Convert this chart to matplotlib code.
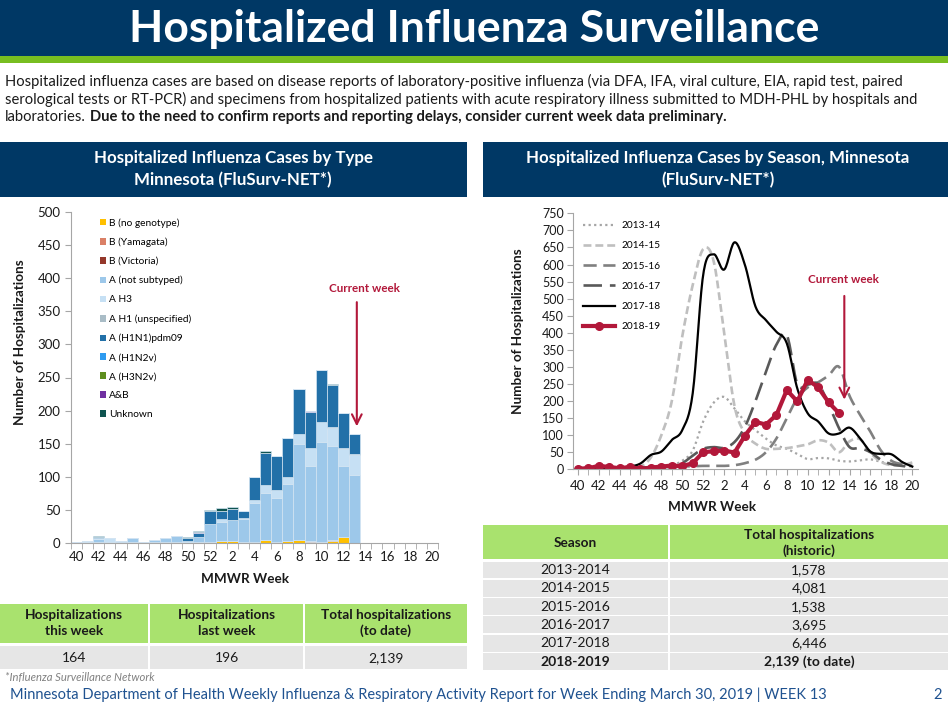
import numpy as np
import matplotlib
matplotlib.use("Agg")
import matplotlib.pyplot as plt
from matplotlib.patches import Rectangle, Patch
from matplotlib.lines import Line2D

plt.rcParams['font.family'] = ['Lato', 'DejaVu Sans']

# ---------------- data ----------------
week_nums = list(range(40, 53)) + list(range(1, 21))          # MMWR weeks 40..52, 1..20
tick_pos = list(range(0, 33, 2))
tick_labels = [str(week_nums[i]) for i in tick_pos]

# stacked bars, weeks 40 .. 13 (26 weeks)
b_nogeno = [0, 0, 1, 0, 1, 2, 0, 1, 2, 2, 0, 2, 2, 3, 3, 1, 2, 5, 2, 3, 4, 2, 2, 3, 9, 0]
b_yam    = [0, 0, 0, 0, 0, 0, 0, 0, 0, 0, 0, 0, 0, 0, 0, 0, 0, 0, 0, 0, 0, 1, 0, 1, 0, 0]
b_vic    = [0, 0, 0, 0, 0, 0, 0, 0, 0, 0, 0, 0, 0, 0, 0, 0, 0, 0, 0, 0, 1, 0, 0, 0, 0, 0]
a_nst    = [2, 2, 5, 1, 2, 5, 1, 3, 5, 8, 2, 7, 26, 29, 31, 36, 59, 71, 66, 86, 145, 113, 150, 143, 107, 103]
a_h3     = [0, 1, 1, 6, 0, 0, 0, 0, 1, 0, 1, 0, 0, 4, 1, 1, 4, 12, 12, 11, 14, 27, 31, 27, 26, 30]
a_h1     = [0, 0, 0, 0, 0, 0, 0, 0, 0, 0, 0, 0, 0, 0, 0, 0, 0, 0, 0, 0, 0, 0, 0, 1, 1, 2]
a_pdm09  = [0, 0, 2, 0, 0, 0, 0, 1, 0, 1, 5, 6, 20, 12, 16, 11, 34, 48, 51, 59, 68, 55, 79, 64, 53, 29]
a_h1n2v  = [0] * 26
a_h3n2v  = [0] * 26
a_and_b  = [0, 0, 0, 0, 0, 0, 0, 0, 0, 0, 0, 1, 0, 0, 0, 0, 0, 0, 0, 0, 0, 1, 0, 0, 0, 0]
unknown  = [0, 0, 1, 0, 0, 0, 0, 0, 0, 0, 1, 2, 2, 5, 4, 0, 0, 3, 0, 0, 0, 0, 0, 1, 0, 0]

type_series = [
    ("B (no genotype)", b_nogeno, "#FFC000"),
    ("B (Yamagata)", b_yam, "#DA8066"),
    ("B (Victoria)", b_vic, "#94372A"),
    ("A (not subtyped)", a_nst, "#9DC8EA"),
    ("A H3", a_h3, "#C6E0F4"),
    ("A H1 (unspecified)", a_h1, "#A9BCC6"),
    ("A (H1N1)pdm09", a_pdm09, "#2270A8"),
    ("A (H1N2v)", a_h1n2v, "#2E9BF0"),
    ("A (H3N2v)", a_h3n2v, "#5E8E1E"),
    ("A&B", a_and_b, "#7030A0"),
    ("Unknown", unknown, "#0F5450"),
]

# seasons, weeks 40 .. 20 (33 weeks)
s1314 = [1, 1, 2, 2, 2, 3, 4, 5, 8, 12, 25, 55, 140, 195, 212, 178, 140, 115, 90, 70, 60, 45, 30,
         33, 32, 25, 23, 26, 29, 22, 15, 12, 8]
s1415 = [2, 2, 2, 3, 3, 4, 8, 35, 100, 200, 390, 540, 645, 610, 400, 185, 105, 75, 60, 60, 62, 67,
         73, 85, 78, 50, 82, 88, 48, 22, 12, 12, 20]
s1516 = [2, 2, 2, 2, 3, 3, 4, 5, 6, 7, 8, 9, 10, 10, 10, 12, 18, 28, 50, 90, 150, 208, 240, 255,
         275, 300, 215, 160, 110, 55, 25, 15, 10]
s1617 = [2, 2, 3, 3, 4, 4, 5, 6, 8, 10, 18, 40, 60, 65, 63, 80, 125, 200, 285, 365, 393, 250, 248,
         250, 190, 120, 65, 62, 50, 28, 15, 10, 6]
s1718 = [2, 3, 4, 4, 5, 8, 17, 42, 52, 86, 115, 223, 570, 630, 585, 665, 598, 477, 437, 403, 369,
         237, 164, 140, 105, 105, 122, 91, 52, 45, 44, 22, 8]
s1819 = list(np.sum([s[1] for s in type_series], axis=0))

season_styles = [
    ("2013-14", s1314, "#A6A6A6", (0, (1, 1.5)), 1.6),
    ("2014-15", s1415, "#BFBFBF", (0, (3, 1.5)), 1.9),
    ("2015-16", s1516, "#808080", (0, (5, 2.5)), 1.9),
    ("2016-17", s1617, "#595959", (0, (7, 3)), 1.9),
    ("2017-18", s1718, "#000000", "-", 1.6),
]

table_left_head = ["Hospitalizations\nthis week", "Hospitalizations\nlast week",
                   "Total hospitalizations\n(to date)"]
table_left_vals = ["164", "196", "2,139"]
seasons_tab = ["2013-2014", "2014-2015", "2015-2016", "2016-2017", "2017-2018", "2018-2019"]
totals_tab = ["1,578", "4,081", "1,538", "3,695", "6,446", "2,139 (to date)"]

NAVY = "#003865"
GREEN = "#A9E26E"
GRAY = "#E6E6E6"
RED = "#B2183A"
TXT = "#1A1A1A"

W, H = 948, 709
fig = plt.figure(figsize=(W / 100, H / 100), dpi=100)


def box(x0, y0, x1, y1, color):
    fig.patches.append(Rectangle((x0 / W, 1 - y1 / H), (x1 - x0) / W, (y1 - y0) / H,
                                 transform=fig.transFigure, facecolor=color,
                                 edgecolor="none", zorder=0))


def txt(x, y, s, **kw):
    kw.setdefault("va", "center")
    kw.setdefault("color", TXT)
    return fig.text(x / W, 1 - y / H, s, **kw)


def smooth(x, y, n=16):
    # catmull-rom rendering of the weekly points (like Excel smoothed lines)
    x = np.asarray(x, float)
    y = np.asarray(y, float)
    px = np.concatenate([[2 * x[0] - x[1]], x, [2 * x[-1] - x[-2]]])
    py = np.concatenate([[2 * y[0] - y[1]], y, [2 * y[-1] - y[-2]]])
    t = np.linspace(0, 1, n, endpoint=False)
    ox, oy = [], []
    for i in range(1, len(px) - 2):
        for p, o in ((px, ox), (py, oy)):
            p0, p1, p2, p3 = p[i - 1], p[i], p[i + 1], p[i + 2]
            o.extend(0.5 * (2 * p1 + (-p0 + p2) * t + (2 * p0 - 5 * p1 + 4 * p2 - p3) * t ** 2
                            + (-p0 + 3 * p1 - 3 * p2 + p3) * t ** 3))
    ox.append(x[-1])
    oy.append(y[-1])
    return np.array(ox), np.array(oy)


# ---------------- header ----------------
box(0, 0, W, 56, NAVY)
box(0, 56, W, 63, "#78BE20")
txt(W / 2, 29, "Hospitalized Influenza Surveillance", ha="center", color="white",
    fontsize=32, fontweight="bold")

fs_p = 10.6
txt(5, 81, "Hospitalized influenza cases are based on disease reports of laboratory-positive influenza "
    "(via DFA, IFA, viral culture, EIA, rapid test, paired", fontsize=fs_p)
txt(5, 99, "serological tests or RT-PCR) and specimens from hospitalized patients with acute respiratory "
    "illness submitted to MDH-PHL by hospitals and", fontsize=fs_p)
t1 = txt(5, 117, "laboratories.", fontsize=fs_p)
fig.canvas.draw()
bb = t1.get_window_extent()
fig.text(bb.x1 / W + 0.004, 1 - 117 / H, "Due to the need to confirm reports and reporting delays, "
         "consider current week data preliminary.", fontsize=fs_p, fontweight="bold",
         va="center", color=TXT)

# panel headers
box(0, 142, 467, 197, NAVY)
box(483, 142, W, 197, NAVY)
fs_h = 12.2
txt(233, 158, "Hospitalized Influenza Cases by Type", ha="center", color="white",
    fontsize=fs_h, fontweight="bold")
txt(233, 180, "Minnesota (FluSurv-NET*)", ha="center", color="white", fontsize=fs_h, fontweight="bold")
txt(718, 158, "Hospitalized Influenza Cases by Season, Minnesota", ha="center", color="white",
    fontsize=fs_h, fontweight="bold")
txt(718, 180, "(FluSurv-NET*)", ha="center", color="white", fontsize=fs_h, fontweight="bold")

# ---------------- left chart: stacked bars ----------------
ax1 = fig.add_axes([71 / W, 1 - 543 / H, (438 - 71) / W, (543 - 212) / H])
xb = np.arange(len(b_nogeno))
bottom = np.zeros(len(xb))
handles = []
for label, vals, color in type_series:
    ax1.bar(xb, vals, bottom=bottom, width=1.0, color=color, edgecolor="#D3E4F2", linewidth=0.5)
    bottom += np.array(vals)
    handles.append(Patch(facecolor=color, label=label))

ax1.set_xlim(-0.5, 32.5)
ax1.set_ylim(0, 500)
ax1.set_yticks(range(0, 501, 50))
ax1.set_xticks(tick_pos)
ax1.set_xticklabels(tick_labels)
ax1.set_xticks(np.arange(-0.5, 33, 1), minor=True)
ax1.tick_params(axis="x", which="major", length=0, labelsize=9.5, pad=6, colors=TXT)
ax1.tick_params(axis="x", which="minor", length=4, color="#A6A6A6")
ax1.tick_params(axis="y", length=4, color="#A6A6A6", labelsize=9.5, colors=TXT)
for s in ["top", "right"]:
    ax1.spines[s].set_visible(False)
for s in ["left", "bottom"]:
    ax1.spines[s].set_color("#A6A6A6")
txt(20, 342, "Number of Hospitalizations", rotation=90, ha="center", fontsize=9.7, fontweight="bold")
txt(245, 579, "MMWR Week", ha="center", fontsize=9.7, fontweight="bold")

fig.legend(handles=handles, loc="upper left", bbox_to_anchor=(100 / W, 1 - 218 / H),
           frameon=False, fontsize=7.3, handlelength=0.6, handleheight=0.6,
           handletextpad=0.3, labelspacing=0.98, borderaxespad=0, borderpad=0)

ax1.annotate("", xy=(25.2, 172), xytext=(25.2, 368),
             arrowprops=dict(arrowstyle="->,head_length=0.7,head_width=0.35", color=RED, lw=1.5))
ax1.text(25.9, 385, "Current week", ha="center", va="center", color=RED, fontsize=8.4,
         fontweight="bold")

# ---------------- right chart: seasons ----------------
ax2 = fig.add_axes([572.5 / W, 1 - 469.3 / H, (917.5 - 572.5) / W, (469.3 - 213.3) / H])
xs = np.arange(len(week_nums))
leg2 = []
for label, vals, color, ls, lw in season_styles:
    sx, sy = smooth(xs, vals)
    ax2.plot(sx, sy, color=color, linestyle=ls, linewidth=lw)
    leg2.append(Line2D([], [], color=color, linestyle=ls, linewidth=lw, label=label))
ax2.plot(np.arange(len(s1819)), s1819, color=RED, linewidth=3, marker="o", markersize=5.5)
leg2.append(Line2D([], [], color=RED, linewidth=3, marker="o", markersize=5.5, label="2018-19"))

ax2.set_xlim(-0.5, 32.5)
ax2.set_ylim(0, 750)
ax2.set_yticks(range(0, 751, 50))
ax2.set_xticks(tick_pos)
ax2.set_xticklabels(tick_labels)
ax2.set_xticks(np.arange(0, 33, 1), minor=True)
ax2.tick_params(axis="x", which="major", length=4, color="#A6A6A6", labelsize=9.5, colors=TXT)
ax2.tick_params(axis="x", which="minor", length=4, color="#A6A6A6")
ax2.tick_params(axis="y", length=4, color="#A6A6A6", labelsize=9, colors=TXT, pad=2)
for s in ["top", "right"]:
    ax2.spines[s].set_visible(False)
for s in ["left", "bottom"]:
    ax2.spines[s].set_color("#A6A6A6")
txt(518, 331, "Number of Hospitalizations", rotation=90, ha="center", fontsize=9.7, fontweight="bold")
txt(712, 507, "MMWR Week", ha="center", fontsize=9.7, fontweight="bold")

fig.legend(handles=leg2, loc="upper left", bbox_to_anchor=(583 / W, 1 - 221 / H),
           frameon=False, fontsize=7.3, handlelength=3.2, handletextpad=0.6,
           labelspacing=1.1, borderaxespad=0, borderpad=0)

ax2.annotate("", xy=(25.5, 196), xytext=(25.5, 516),
             arrowprops=dict(arrowstyle="->,head_length=0.7,head_width=0.35", color=RED, lw=1.5))
ax2.text(25.4, 557, "Current week", ha="center", va="center", color=RED, fontsize=8.4,
         fontweight="bold")

# ---------------- left table ----------------
cols_l = [(0, 148), (150, 303), (305, 467)]
for (x0, x1), head, val in zip(cols_l, table_left_head, table_left_vals):
    box(x0, 604, x1, 643, GREEN)
    box(x0, 646, x1, 669, GRAY)
    txt((x0 + x1) / 2, 623, head, ha="center", fontsize=9.8, fontweight="bold", linespacing=1.35)
    txt((x0 + x1) / 2, 658, val, ha="center", fontsize=10)

# ---------------- right table ----------------
box(483, 525, 668, 559, GREEN)
box(670, 525, W, 559, GREEN)
txt(575, 543, "Season", ha="center", fontsize=9.8, fontweight="bold")
txt(809, 543, "Total hospitalizations\n(historic)", ha="center", fontsize=9.8, fontweight="bold",
    linespacing=1.3)
for i, (sea, tot) in enumerate(zip(seasons_tab, totals_tab)):
    y0 = 561.5 + i * 18.3
    box(483, y0, 668, y0 + 16.8, GRAY)
    box(670, y0, W, y0 + 16.8, GRAY)
    wt = "bold" if i == len(seasons_tab) - 1 else "normal"
    txt(575, y0 + 8.6, sea, ha="center", fontsize=10, fontweight=wt)
    txt(809, y0 + 8.6, tot, ha="center", fontsize=10, fontweight=wt)

# ---------------- footer ----------------
txt(5, 678, "*Influenza Surveillance Network", fontsize=8.1, style="italic", color="#808080")
txt(10, 695, "Minnesota Department of Health Weekly Influenza & Respiratory Activity Report for "
    "Week Ending March 30, 2019 | WEEK 13", fontsize=10.5, color="#1F5290")
txt(938, 695, "2", fontsize=10.5, color="#1F5290", ha="center")

fig.savefig("out.png", dpi=100)
